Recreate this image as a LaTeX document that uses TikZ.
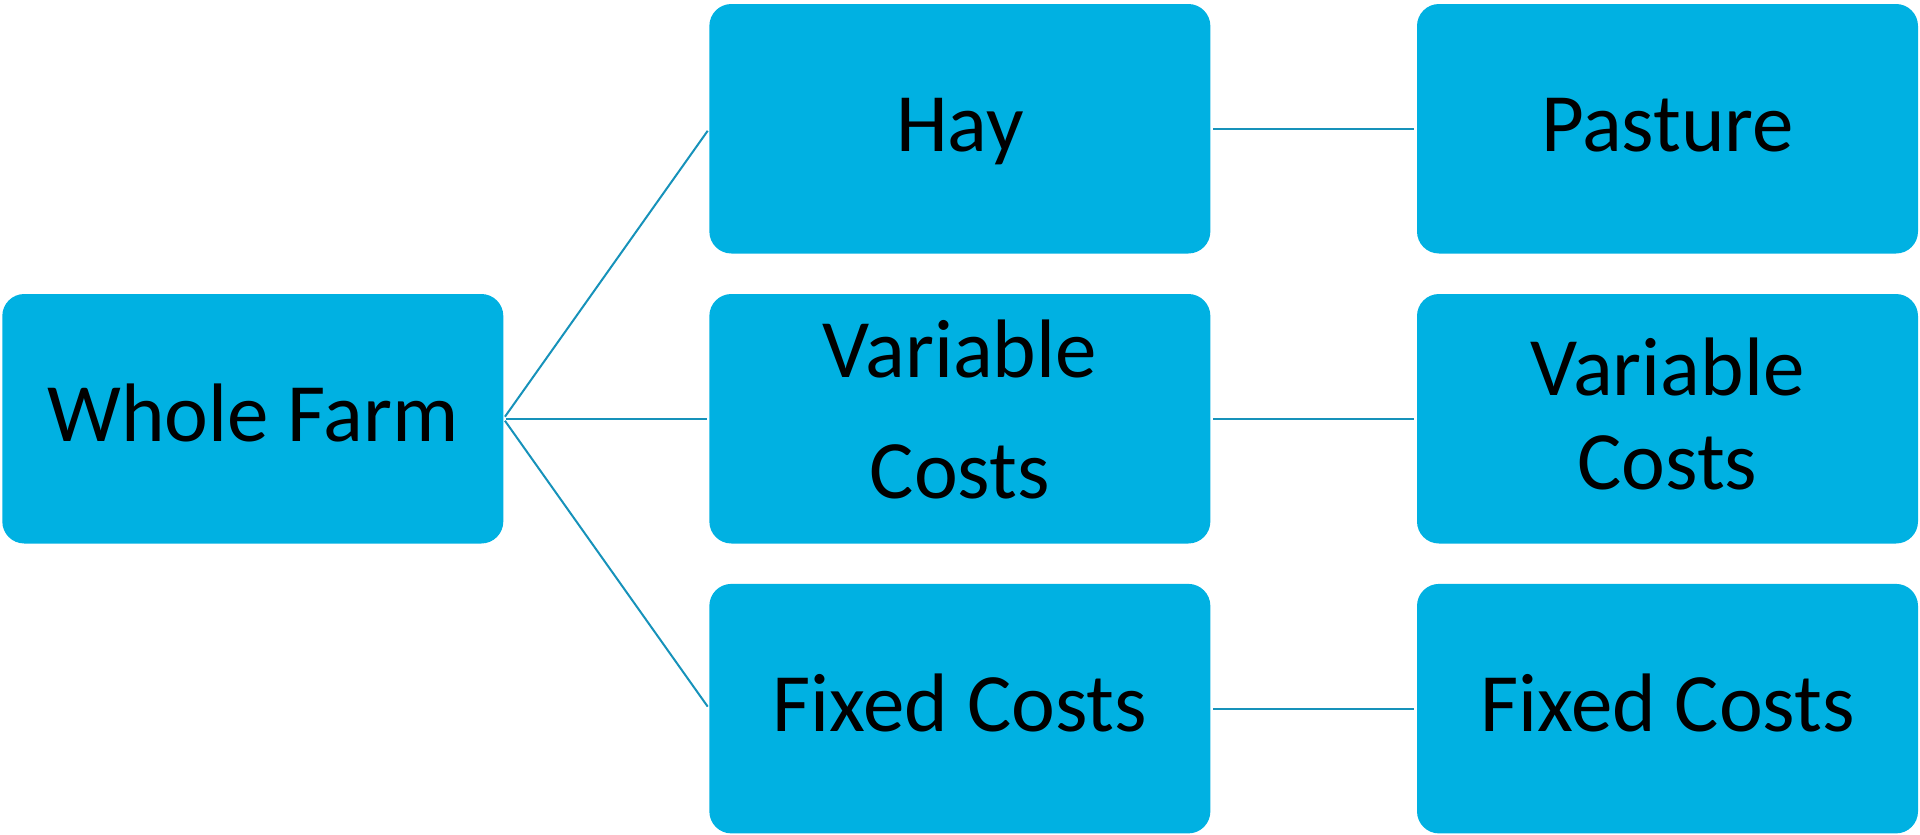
\documentclass[tikz,border=0pt]{standalone}
\usepackage{fontspec}
\setmainfont{Carlito}
\definecolor{boxfill}{RGB}{0,177,226}
\definecolor{linkcol}{RGB}{22,146,186}
\newcommand\boxlbl[2]{\raisebox{#1}[0pt][0pt]{\begin{tabular}[b]{@{}c@{}}#2\end{tabular}}}
\begin{document}
\begin{tikzpicture}[x=1pt,y=-1pt,
  farmbox/.style={rectangle, rounded corners=22pt, fill=boxfill, draw=none,
    minimum width=501pt, minimum height=249.5pt, inner sep=0pt,
    font=\fontsize{83pt}{93.6pt}\selectfont},
  link/.style={draw=linkcol, line width=2pt, shorten <=2.5pt, shorten >=2.5pt}]
\useasboundingbox (0,0) rectangle (1920,835);
\node[farmbox] (wf) at (252.8,418.75) {\boxlbl{-22.7pt}{Whole Farm}};
\node[farmbox] (hay) at (959.85,128.75) {\boxlbl{-22.7pt}{Hay}};
\node[farmbox] (vc) at (959.85,418.75) {\boxlbl{-80.2pt}{Variable\\[27.7pt]Costs}};
\node[farmbox] (fc) at (959.85,708.65) {\boxlbl{-22.7pt}{Fixed Costs}};
\node[farmbox] (pas) at (1667.5,128.75) {\boxlbl{-22.7pt}{Pasture}};
\node[farmbox] (vc2) at (1667.5,418.75) {\boxlbl{-70.5pt}{Variable\\Costs}};
\node[farmbox] (fc2) at (1667.5,708.65) {\boxlbl{-22.7pt}{Fixed Costs}};
\draw[link] (wf.east) -- (hay.west);
\draw[link] (wf.east) -- (vc.west);
\draw[link] (wf.east) -- (fc.west);
\draw[link] (hay.east) -- (pas.west);
\draw[link] (vc.east) -- (vc2.west);
\draw[link] (fc.east) -- (fc2.west);
\end{tikzpicture}
\end{document}
